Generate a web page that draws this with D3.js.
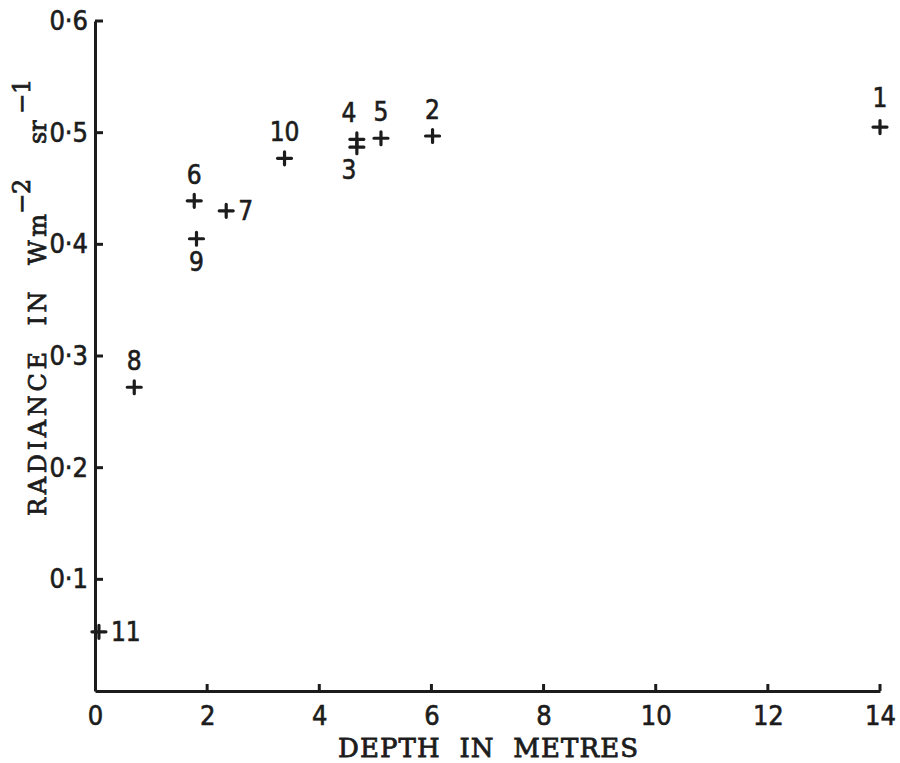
<!DOCTYPE html>
<html>
<head>
<meta charset="utf-8">
<script src="https://cdnjs.cloudflare.com/ajax/libs/d3/7.8.5/d3.min.js"></script>
<style>
  body { margin: 0; background: #fff; }
  svg { display: block; }
</style>
</head>
<body>
<div id="chart"></div>
<script>
// radiance vs depth scatter, numbered stations

// data
var stations = ["1", "2", "3", "4", "5", "6", "7", "8", "9", "10", "11"];
var depth = [14.0, 6.02, 4.67, 4.67, 5.10, 1.77, 2.34, 0.70, 1.81, 3.38, 0.07];
var radiance = [0.505, 0.497, 0.487, 0.494, 0.495, 0.439, 0.430, 0.272, 0.405, 0.477, 0.053];

var xTicks = [0, 2, 4, 6, 8, 10, 12, 14];
var yTicks = [0.1, 0.2, 0.3, 0.4, 0.5, 0.6];

// where each station number sits relative to its cross
var labelSide = {
  "1": "above", "2": "above", "3": "below", "4": "above", "5": "above",
  "6": "above", "7": "right", "8": "above", "9": "below", "10": "above", "11": "right"
};

var width = 900;
var height = 763;
var ink = "#1c1c1c";
var numFont = "'Liberation Sans Narrow', 'DejaVu Sans Condensed', 'Liberation Sans', sans-serif";
var titleFont = "'DejaVu Serif', 'Liberation Serif', serif";

var svg = d3.select("#chart")
  .append("svg")
  .attr("width", width)
  .attr("height", height);

// scales
var x = d3.scaleLinear().domain([0, 14]).range([95, 880]);
var y = d3.scaleLinear().domain([0, 0.6]).range([691, 21]);

var fmt = function(d) { return d3.format(".1f")(d).replace(".", "\u00b7"); };

// axes (labels + spine), tick marks drawn separately below
var bottomAxis = d3.axisBottom(x)
  .tickValues(xTicks)
  .tickSize(0)
  .tickPadding(15)
  .tickFormat(d3.format("d"));

var leftAxis = d3.axisLeft(y)
  .tickValues(yTicks)
  .tickSize(0)
  .tickPadding(7)
  .tickFormat(fmt);

var xAxis = svg.append("g")
  .attr("transform", "translate(0," + y(0) + ")")
  .call(bottomAxis);

var yAxis = svg.append("g")
  .attr("transform", "translate(" + x(0) + ",0)")
  .call(leftAxis);

[xAxis, yAxis].forEach(function(ax) {
  ax.select(".domain").attr("stroke", ink).attr("stroke-width", 3);
  ax.selectAll(".tick text")
    .attr("fill", ink)
    .attr("stroke", ink)
    .attr("stroke-width", 0.6)
    .style("font-family", numFont)
    .style("font-size", "27px");
});

// inward tick marks
svg.append("g").selectAll("line")
  .data(xTicks.filter(function(d) { return d > 0; }))
  .enter()
  .append("line")
  .attr("x1", function(d) { return x(d); })
  .attr("x2", function(d) { return x(d); })
  .attr("y1", y(0))
  .attr("y2", y(0) - 7)
  .attr("stroke", ink)
  .attr("stroke-width", 3);

svg.append("g").selectAll("line")
  .data(yTicks)
  .enter()
  .append("line")
  .attr("x1", x(0))
  .attr("x2", x(0) + 8)
  .attr("y1", function(d) { return y(d); })
  .attr("y2", function(d) { return y(d); })
  .attr("stroke", ink)
  .attr("stroke-width", 3);

// crosses
var plus = "M-7,0H7M0,-6.5V6.5";
svg.append("g").selectAll("path")
  .data(stations)
  .enter()
  .append("path")
  .attr("d", plus)
  .attr("transform", function(d, i) { return "translate(" + x(depth[i]) + "," + y(radiance[i]) + ")"; })
  .attr("stroke", ink)
  .attr("stroke-width", 3.2)
  .attr("stroke-linecap", "round")
  .attr("fill", "none");

// station numbers
svg.append("g").selectAll("text")
  .data(stations)
  .enter()
  .append("text")
  .attr("x", function(d, i) {
    var side = labelSide[d];
    var cx = x(depth[i]);
    if (side === "right") return cx + 12;
    if (d === "3" || d === "4") return cx - 8;
    return cx;
  })
  .attr("y", function(d, i) {
    var side = labelSide[d];
    var cy = y(radiance[i]);
    if (d === "1") return cy - 20;
    if (side === "above") return cy - 17;
    if (side === "below") return cy + 32;
    return cy + 9;
  })
  .attr("text-anchor", function(d) { return labelSide[d] === "right" ? "start" : "middle"; })
  .attr("fill", ink)
  .attr("stroke", ink)
  .attr("stroke-width", 0.6)
  .style("font-family", numFont)
  .style("font-size", "26px")
  .text(function(d) { return d; });

// x title
svg.append("text")
  .attr("x", 338)
  .attr("y", 757)
  .attr("textLength", 300)
  .attr("lengthAdjust", "spacing")
  .attr("fill", ink)
  .attr("stroke", ink)
  .attr("stroke-width", 0.8)
  .style("font-family", titleFont)
  .style("font-size", "26px")
  .style("white-space", "pre")
  .text("DEPTH  IN  METRES");

// y title, rotated, with superscripts
var yTitle = svg.append("g")
  .attr("transform", "translate(46,0) rotate(-90)")
  .attr("fill", ink)
  .attr("stroke", ink)
  .attr("stroke-width", 0.8)
  .style("font-family", titleFont)
  .style("font-size", "24px");

yTitle.append("text")
  .attr("x", -516)
  .attr("y", 0)
  .attr("textLength", 302)
  .attr("lengthAdjust", "spacing")
  .style("white-space", "pre")
  .text("RADIANCE  IN  Wm");

yTitle.append("text")
  .attr("x", -214)
  .attr("y", -16)
  .text("\u22122");

yTitle.append("text")
  .attr("x", -144)
  .attr("y", 0)
  .text("sr");

yTitle.append("text")
  .attr("x", -114)
  .attr("y", -16)
  .text("\u22121");
</script>
</body>
</html>
